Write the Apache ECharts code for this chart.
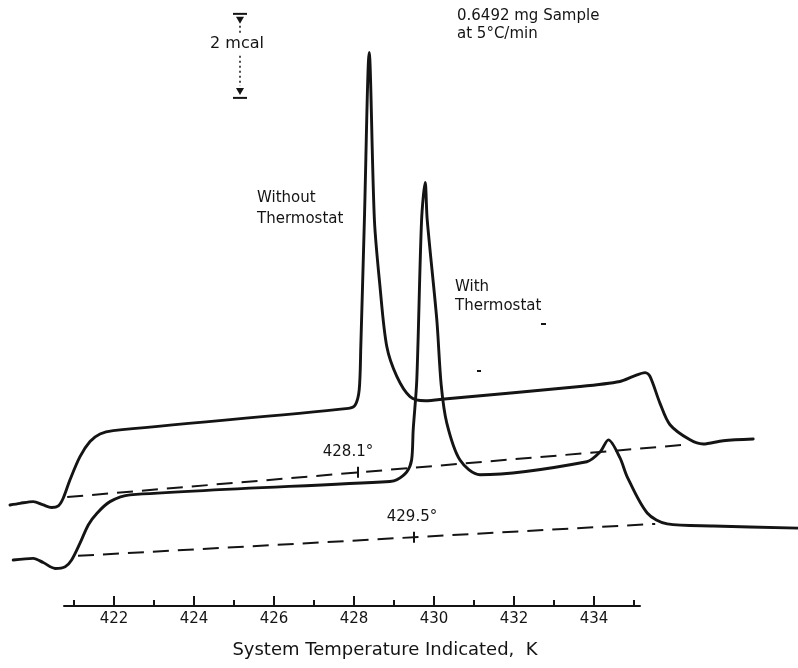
<!DOCTYPE html>
<html><head><meta charset="utf-8">
<script src="https://cdn.jsdelivr.net/npm/echarts@6/dist/echarts.min.js"></script>
<style>html,body{margin:0;padding:0;background:#fff}#c{width:798px;height:668px}</style>
</head><body><div id="c"></div>
<script>
// Indicated system temperature (K) and heat flow (mcal, arbitrary zero)
const withoutT = [419.40,419.65,419.98,420.23,420.44,420.61,420.73,420.90,421.15,421.40,421.65,421.98,
  427.86,428.03,428.13,428.17,428.26,428.38,428.51,428.65,428.82,429.07,429.40,429.78,430.33,
  433.65,434.65,434.98,435.28,435.40,435.65,435.90,436.40,436.73,437.23,437.98];
const withoutV = [3.88,3.92,3.96,3.88,3.82,3.86,4.04,4.48,5.03,5.39,5.57,5.65,
  6.18,6.26,6.62,7.65,10.67,14.65,10.67,9.08,7.65,6.94,6.46,6.36,6.41,
  6.70,6.82,6.94,7.03,6.94,6.30,5.79,5.43,5.33,5.41,5.45];
const withT = [419.48,419.98,420.23,420.53,420.78,420.94,421.15,421.36,421.57,421.90,422.40,
  428.90,429.07,429.32,429.44,429.48,429.57,429.69,429.78,429.83,430.07,430.18,430.32,430.65,431.15,
  433.82,434.15,434.36,434.65,434.83,435.33,435.83,436.98,439.10];
const withV = [2.57,2.61,2.51,2.37,2.41,2.57,2.97,3.41,3.68,3.96,4.12,
  4.44,4.48,4.67,4.95,5.67,6.86,10.67,11.56,10.67,8.29,6.74,5.83,4.95,4.60,
  4.91,5.14,5.43,5.00,4.55,3.69,3.43,3.38,3.33];
const baseUpperT = [420.83, 436.23], baseUpperV = [4.07, 5.31];
const baseLowerT = [421.10, 435.53], baseLowerV = [2.67, 3.43];
const onsetT = [428.1, 429.5], onsetV = [4.66, 3.11];
const onsetLabels = ['428.1°', '429.5°'];
const majorTicks = [422,424,426,428,430,432,434];
const minorTicks = [421,423,425,427,429,431,433,435];
const scaleBarT = 425.15, scaleBarV = [13.57, 15.57];

const W = 798, H = 668;
const X_MIN = 419.15, X_MAX = 439.1, Y_MIN = 0, Y_MAX = 15.9;
const AX_MIN = 420.75, AX_MAX = 435.15;
const pxX = t => (t - X_MIN) / (X_MAX - X_MIN) * W;
const FONT = '"DejaVu Sans", Verdana, sans-serif';
const INK = '#141414';
const zip = (a, b) => a.map((v, i) => [v, b[i]]);

const chart = echarts.init(document.getElementById('c'), null, {renderer: 'canvas'});
const axLeft = pxX(AX_MIN), axWidth = pxX(AX_MAX) - pxX(AX_MIN);
const lineSeries = (name, data, extra) => Object.assign({
  name, type: 'line', xAxisIndex: 0, yAxisIndex: 0, data, showSymbol: false, silent: true,
  smooth: 0.3,
  lineStyle: {color: INK, width: 2.9, cap: 'round', join: 'round'}
}, extra || {});

const option = {
  animation: false,
  backgroundColor: '#fff',
  grid: [
    {left: 0, top: 0, width: W, height: H},
    {left: axLeft, top: 596, width: axWidth, height: 10}
  ],
  xAxis: [
    {gridIndex: 0, type: 'value', min: X_MIN, max: X_MAX, show: false},
    {gridIndex: 1, type: 'value', min: AX_MIN, max: AX_MAX, position: 'bottom',
      axisLine: {show: true, lineStyle: {color: INK, width: 2}},
      axisTick: {show: true, inside: true, length: 10, lineStyle: {color: INK, width: 2}, customValues: majorTicks},
      axisLabel: {show: true, customValues: majorTicks, color: INK, fontSize: 15, fontFamily: FONT, margin: 6},
      splitLine: {show: false},
      name: 'System Temperature Indicated,  K', nameLocation: 'middle', nameGap: 35,
      nameTextStyle: {color: INK, fontSize: 18, fontFamily: FONT, padding: [0, 0, 0, 66]}},
    {gridIndex: 1, type: 'value', min: AX_MIN, max: AX_MAX, position: 'bottom',
      axisLine: {show: false},
      axisTick: {show: true, inside: true, length: 6, lineStyle: {color: INK, width: 2}, customValues: minorTicks},
      axisLabel: {show: false}, splitLine: {show: false}}
  ],
  yAxis: [
    {gridIndex: 0, type: 'value', min: Y_MIN, max: Y_MAX, show: false},
    {gridIndex: 1, type: 'value', min: 0, max: 1, show: false}
  ],
  series: [
    lineSeries('Without Thermostat', zip(withoutT, withoutV)),
    lineSeries('With Thermostat', zip(withT, withV)),
    lineSeries('baseline upper', zip(baseUpperT, baseUpperV), {smooth: false, lineStyle: {color: INK, width: 2, type: [16, 9]}}),
    lineSeries('baseline lower', zip(baseLowerT, baseLowerV), {smooth: false, lineStyle: {color: INK, width: 2, type: [16, 9]}}),
    {name: 'onset', type: 'scatter', xAxisIndex: 0, yAxisIndex: 0, silent: true,
      data: zip(onsetT, onsetV), symbol: 'rect', symbolSize: [2, 11], itemStyle: {color: INK, opacity: 1}}
  ]
};
chart.setOption(option);

const toPx = (t, v) => chart.convertToPixel({xAxisIndex: 0, yAxisIndex: 0}, [t, v]);
// scale bar (2 mcal) placed through the data scales
const pTop = toPx(scaleBarT, scaleBarV[1]);
const pBot = toPx(scaleBarT, scaleBarV[0]);
const bx = pTop[0], ty = pTop[1], by = pBot[1];
const txt = (text, x, y, size, align) => ({type: 'text', silent: true, style: {text, x, y, fill: INK,
  font: size + 'px ' + FONT, align: align || 'left', verticalAlign: 'middle'}});
const onsetTexts = onsetT.map((t, i) => {
  const p = toPx(t, onsetV[i]);
  return txt(onsetLabels[i], p[0] + (i === 0 ? -10 : -2), p[1] - 20, 15, 'center');
});
chart.setOption({graphic: [
  {type: 'line', silent: true, shape: {x1: bx - 7, y1: ty, x2: bx + 7, y2: ty}, style: {stroke: INK, lineWidth: 2}},
  {type: 'line', silent: true, shape: {x1: bx - 7, y1: by, x2: bx + 7, y2: by}, style: {stroke: INK, lineWidth: 2}},
  {type: 'polygon', silent: true, shape: {points: [[bx - 4, ty + 3], [bx + 4, ty + 3], [bx, ty + 10]]}, style: {fill: INK}},
  {type: 'polygon', silent: true, shape: {points: [[bx - 4, by - 10], [bx + 4, by - 10], [bx, by - 3]]}, style: {fill: INK}},
  {type: 'line', silent: true, shape: {x1: bx, y1: ty + 12, x2: bx, y2: ty + 20}, style: {stroke: INK, lineWidth: 1.5, lineDash: [2, 3]}},
  {type: 'line', silent: true, shape: {x1: bx, y1: ty + 42, x2: bx, y2: by - 12}, style: {stroke: INK, lineWidth: 1.5, lineDash: [2, 3]}},
  {type: 'rect', silent: true, shape: {x: 541, y: 323, width: 5, height: 2}, style: {fill: INK}},
  {type: 'rect', silent: true, shape: {x: 477, y: 370, width: 4, height: 2}, style: {fill: INK}},
  txt('2 mcal', bx - 3, ty + 30, 16, 'center'),
  txt('0.6492 mg Sample', 457, 16, 15),
  txt('at 5°C/min', 457, 34, 15),
  txt('Without', 257, 198, 15),
  txt('Thermostat', 257, 219, 15),
  txt('With', 455, 287, 15),
  txt('Thermostat', 455, 306, 15)
].concat(onsetTexts)});
</script></body></html>
